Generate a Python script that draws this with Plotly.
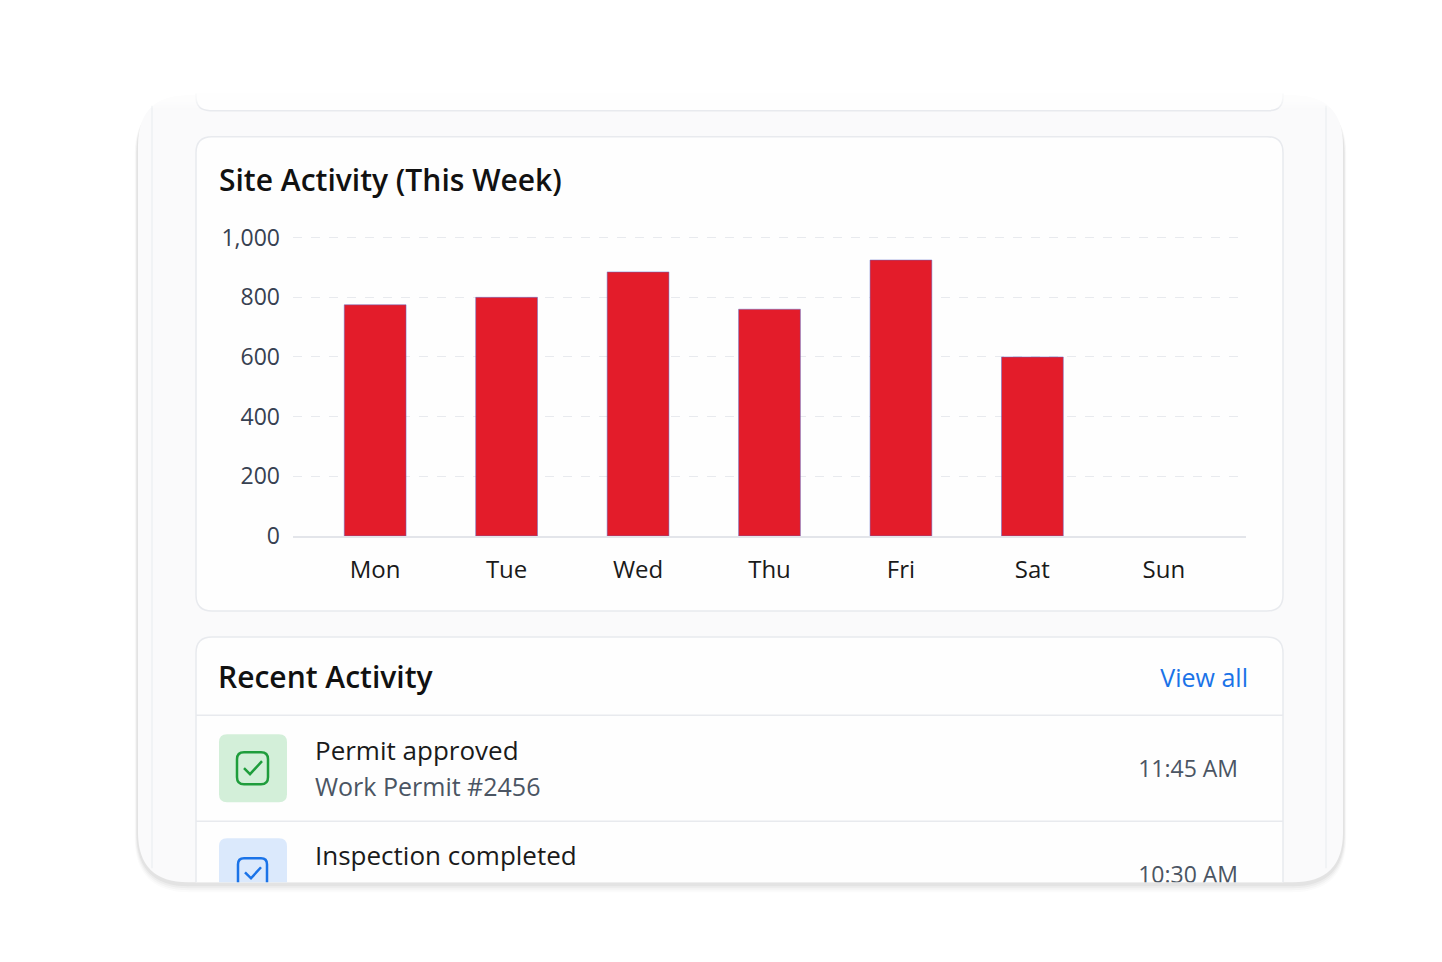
import plotly.graph_objects as go

# Chart data
days = ["Mon", "Tue", "Wed", "Thu", "Fri", "Sat", "Sun"]
activity = [775, 800, 885, 760, 925, 600, 0]
y_ticks = [0, 200, 400, 600, 800, 1000]

# Recent activity list
event_titles = ["Permit approved", "Inspection completed"]
event_details = ["Work Permit #2456", ""]
event_times = ["11:45 AM", "10:30 AM"]

# page body has an 8px margin; the figure is a bit smaller than the window
OFF = 8
W, H = 1426, 935
# vertical correction measured from earlier renders
SY, CY = 0.981, 2.6
FONT = "Open Sans"
RED = "#e31c2a"


def fx(x):
    return (x - OFF) / W


def fy(y):
    return 1 - ((y - CY) / SY - OFF) / H


def rounded_path(x0, y0, x1, y1, r, top=True, bottom=True):
    # path in paper coords built from window pixel values
    p = []
    if top:
        p.append(f"M {fx(x0)},{fy(y0 + r)} Q {fx(x0)},{fy(y0)} {fx(x0 + r)},{fy(y0)}")
        p.append(f"L {fx(x1 - r)},{fy(y0)} Q {fx(x1)},{fy(y0)} {fx(x1)},{fy(y0 + r)}")
    else:
        p.append(f"M {fx(x0)},{fy(y0)} L {fx(x1)},{fy(y0)}")
    if bottom:
        p.append(f"L {fx(x1)},{fy(y1 - r)} Q {fx(x1)},{fy(y1)} {fx(x1 - r)},{fy(y1)}")
        p.append(f"L {fx(x0 + r)},{fy(y1)} Q {fx(x0)},{fy(y1)} {fx(x0)},{fy(y1 - r)}")
    else:
        p.append(f"L {fx(x1)},{fy(y1)} L {fx(x0)},{fy(y1)}")
    p.append("Z")
    return " ".join(p)


def open_path(points):
    return "M " + " L ".join(f"{fx(x)},{fy(y)}" for x, y in points)


def open_box(x0, y0, x1, y_cut, r):
    # outline with rounded top, cut flat at the bottom (no bottom edge)
    return (open_path([(x0, y_cut), (x0, y0 + r)])
            + f" Q {fx(x0)},{fy(y0)} {fx(x0 + r)},{fy(y0)}"
            + f" L {fx(x1 - r)},{fy(y0)} Q {fx(x1)},{fy(y0)} {fx(x1)},{fy(y0 + r)}"
            + f" L {fx(x1)},{fy(y_cut)}")


def open_cup(x0, y_top, x1, y1, r):
    # outline with rounded bottom, open at the top
    return (open_path([(x0, y_top), (x0, y1 - r)])
            + f" Q {fx(x0)},{fy(y1)} {fx(x0 + r)},{fy(y1)}"
            + f" L {fx(x1 - r)},{fy(y1)} Q {fx(x1)},{fy(y1)} {fx(x1)},{fy(y1 - r)}"
            + f" L {fx(x1)},{fy(y_top)}")


fig = go.Figure()

# bars
fig.add_trace(go.Bar(
    x=days, y=activity, width=0.47,
    marker=dict(color=RED, line=dict(color="rgba(95,110,205,0.5)",
                                     width=[1 if v > 0 else 0 for v in activity])),
    hoverinfo="x+y", xaxis="x", yaxis="y",
))

# text layer (clipped at the bottom edge of the phone)
fig.add_trace(go.Scatter(
    x=[219, 218, 315, 315, 315],
    y=[184, 680, 753, 790, 858],
    text=["Site Activity (This Week)", "Recent Activity",
          event_titles[0], event_details[0], event_titles[1]],
    mode="text", textposition="middle right",
    textfont=dict(family=FONT, size=[30, 30, 26, 25, 26],
                  color=["#111111", "#111111", "#1a1a1a", "#4b5563", "#1a1a1a"],
                  weight=[600, 600, 400, 400, 400]),
    hoverinfo="skip", xaxis="x2", yaxis="y2", cliponaxis=True,
))
fig.add_trace(go.Scatter(
    x=[1248, 1238, 1238],
    y=[681, 771, 877],
    text=["View all", event_times[0], event_times[1]],
    mode="text", textposition="middle left",
    textfont=dict(family=FONT, size=[25, 23, 23],
                  color=["#1a73e8", "#4b5563", "#4b5563"]),
    hoverinfo="skip", xaxis="x2", yaxis="y2", cliponaxis=True,
))

line_col = "#e8eaee"
card_bg = "#fefefe"
shapes = []
# phone shadow
for i, a in enumerate([0.02, 0.03, 0.045, 0.06]):
    d = 10 - 2 * i
    shapes.append(dict(type="path", xref="paper", yref="paper", layer="below",
                       path=rounded_path(138 - d / 3, 100, 1343 + d / 3, 882 + d, 50 + d / 2),
                       fillcolor=f"rgba(60,60,70,{a})", line=dict(width=0)))
# phone body
shapes.append(dict(type="path", xref="paper", yref="paper", layer="below",
                   path=rounded_path(138, 96, 1343, 882, 50),
                   fillcolor="#fafafb", line=dict(width=0)))
for xl in [152, 1326]:
    shapes.append(dict(type="line", xref="paper", yref="paper", layer="below",
                       x0=fx(xl), x1=fx(xl), y0=fy(106), y1=fy(868),
                       line=dict(color="#eef0f3", width=1.5)))
# top (cut) card
shapes.append(dict(type="path", xref="paper", yref="paper", layer="below",
                   path=rounded_path(196, 94, 1283, 111, 14, top=False),
                   fillcolor=card_bg, line=dict(width=0)))
shapes.append(dict(type="path", xref="paper", yref="paper", layer="below",
                   path=open_cup(196, 94, 1283, 111, 14),
                   line=dict(color=line_col, width=1.5)))
# chart card
shapes.append(dict(type="path", xref="paper", yref="paper", layer="below",
                   path=rounded_path(196, 137, 1283, 611, 16),
                   fillcolor=card_bg, line=dict(color=line_col, width=1.5)))
# recent activity card (cut off at the bottom)
shapes.append(dict(type="path", xref="paper", yref="paper", layer="below",
                   path=rounded_path(196, 637, 1283, 882, 16, bottom=False),
                   fillcolor=card_bg, line=dict(width=0)))
shapes.append(dict(type="path", xref="paper", yref="paper", layer="below",
                   path=open_box(196, 637, 1283, 882, 16),
                   line=dict(color=line_col, width=1.5)))
for ys in [715, 821]:
    shapes.append(dict(type="line", xref="paper", yref="paper", layer="below",
                       x0=fx(196), x1=fx(1283), y0=fy(ys), y1=fy(ys),
                       line=dict(color=line_col, width=1.5)))
# soft fade where the phone is cut at the top
for i in range(5):
    shapes.append(dict(type="rect", xref="paper", yref="paper", layer="below",
                       x0=fx(120), x1=fx(1360), y0=fy(90), y1=fy(96 + 3 * i),
                       fillcolor="rgba(255,255,255,0.25)", line=dict(width=0)))
# green icon
shapes.append(dict(type="path", xref="paper", yref="paper", layer="below",
                   path=rounded_path(219, 734, 287, 802, 8),
                   fillcolor="#d3efd9", line=dict(width=0)))
shapes.append(dict(type="path", xref="paper", yref="paper", layer="below",
                   path=rounded_path(237, 752, 268, 784, 7),
                   line=dict(color="#1f9d3c", width=2.5)))
shapes.append(dict(type="path", xref="paper", yref="paper", layer="below",
                   path=open_path([(244, 768), (250, 774), (262, 761)]),
                   line=dict(color="#1f9d3c", width=2.5)))
# blue icon (cut)
shapes.append(dict(type="path", xref="paper", yref="paper", layer="below",
                   path=rounded_path(219, 838, 287, 882, 8, bottom=False),
                   fillcolor="#dbe9fc", line=dict(width=0)))
shapes.append(dict(type="path", xref="paper", yref="paper", layer="below",
                   path=open_box(238, 858, 267, 882, 6),
                   line=dict(color="#1a73e8", width=2.5)))
shapes.append(dict(type="path", xref="paper", yref="paper", layer="below",
                   path=open_path([(245, 872), (251, 878), (261, 867)]),
                   line=dict(color="#1a73e8", width=2.5)))

fig.update_layout(
    width=W, height=H,
    margin=dict(l=0, r=0, t=0, b=0),
    paper_bgcolor="white",
    plot_bgcolor="rgba(0,0,0,0)",
    showlegend=False,
    shapes=shapes,
    xaxis=dict(
        domain=[fx(293), fx(1246)], range=[-0.625, 6.625],
        showgrid=False, zeroline=False,
        showline=True, linecolor="#e3e5ea", linewidth=2,
        ticks="", ticklabelstandoff=11,
        tickfont=dict(family=FONT, size=24, color="#1a1a1a"),
        fixedrange=True,
    ),
    yaxis=dict(
        domain=[fy(536), fy(223)], range=[0, 1050],
        tickvals=y_ticks, tickformat=",d",
        showgrid=True, gridcolor="#e8eaee", gridwidth=1, griddash="dash",
        zeroline=False, showline=False,
        ticks="", ticklabelstandoff=12,
        tickfont=dict(family=FONT, size=23, color="#374151"),
        fixedrange=True,
    ),
    xaxis2=dict(domain=[0, 1], range=[OFF, OFF + W], visible=False, fixedrange=True),
    yaxis2=dict(domain=[fy(882), 1], range=[882, OFF * SY + CY], visible=False, fixedrange=True),
)

fig.write_html("out.html")
